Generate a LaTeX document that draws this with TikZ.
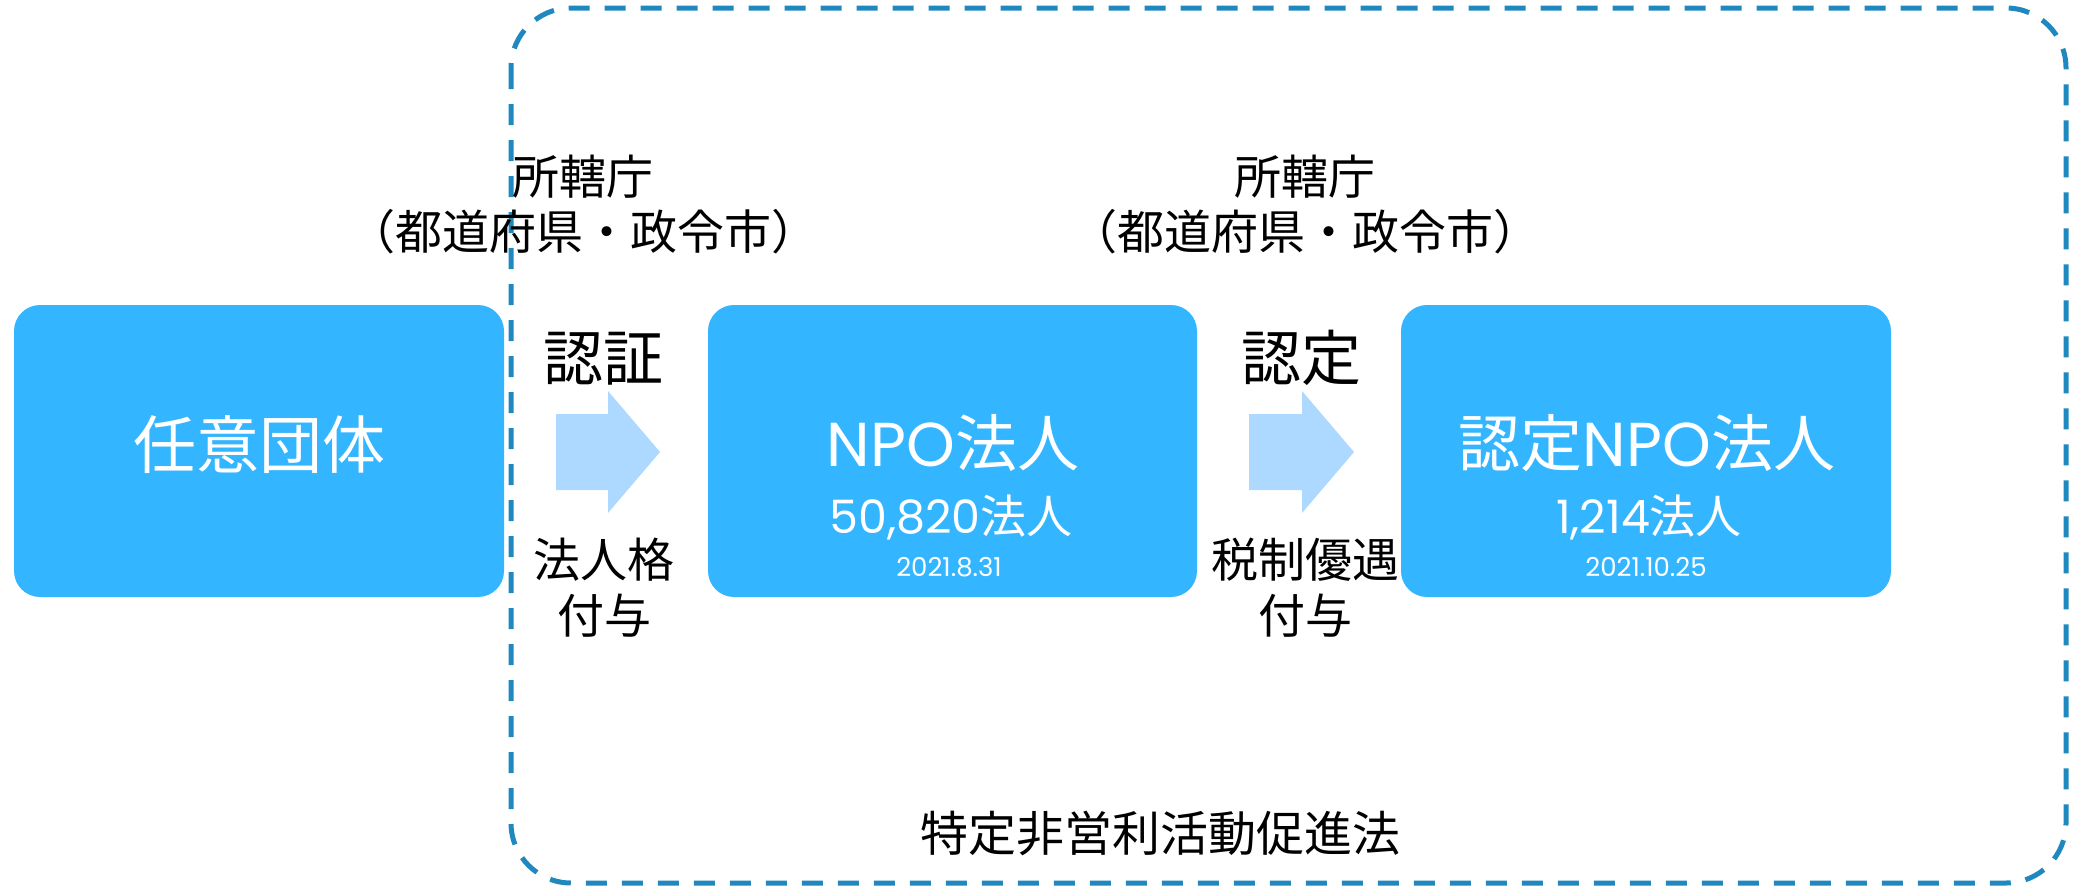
\documentclass[tikz,border=0pt]{standalone}
\usepackage{fontspec}
\setmainfont{Noto Sans CJK JP}
\newfontfamily\lat{Poppins}
\definecolor{boxblue}{RGB}{51,182,255}
\definecolor{arrowblue}{RGB}{173,216,255}
\definecolor{dashblue}{RGB}{31,136,190}
\begin{document}
\begin{tikzpicture}[x=1pt,y=-1pt,
  bx/.style={fill=boxblue, draw=none, rounded corners=26pt, minimum height=292pt, inner sep=0pt},
  wt/.style={text=white, inner sep=0pt, anchor=center},
  bk/.style={text=black, inner sep=0pt, anchor=center, align=center},
  arr/.style={fill=arrowblue, draw=none},
  frame/.style={draw=dashblue, line width=5pt, dash pattern=on 21pt off 15pt, rounded corners=60pt}]
\useasboundingbox (0,0) rectangle (2074,886);
% dashed law frame
\draw[frame] (511,8) rectangle (2066,883);
% boxes
\node[bx, minimum width=490pt] (b1) at (259,451) {};
\node[bx, minimum width=489pt] (b2) at (952.5,451) {};
\node[bx, minimum width=490pt] (b3) at (1646,451) {};
% box texts
\node[wt, font=\fontsize{63}{63}\selectfont] (t1) at (259,445) {任意団体};
\node[wt, font=\fontsize{62}{62}\selectfont] (t2) at (953,443) {{\lat NPO}法人};
\node[wt, font=\fontsize{46}{46}\selectfont] (n2) at (951,517) {{\lat 50,820}法人};
\node[wt, font=\lat\fontsize{26}{26}\selectfont] (d2) at (949,567) {2021.8.31};
\node[wt, font=\fontsize{62}{62}\selectfont] (t3) at (1647,443) {認定{\lat NPO}法人};
\node[wt, font=\fontsize{46}{46}\selectfont] (n3) at (1649,517) {{\lat 1,214}法人};
\node[wt, font=\lat\fontsize{26}{26}\selectfont] (d3) at (1646,567) {2021.10.25};
% arrows
\coordinate (a1) at (556,451);
\coordinate (a2) at (1249,451);
\fill[arr] (a1) ++(0,-37) -- ++(52,0) -- ++(0,-23) -- ++(52,61) -- ++(-52,61) -- ++(0,-23) -- ++(-52,0) -- cycle;
\fill[arr] (a2) ++(0,-37) -- ++(53,0) -- ++(0,-23) -- ++(52,61) -- ++(-52,61) -- ++(0,-23) -- ++(-53,0) -- cycle;
% labels
\node[bk, font=\fontsize{47}{55}\selectfont] (g1) at (583,205) {所轄庁\\（都道府県・政令市）};
\node[bk, font=\fontsize{47}{55}\selectfont] (g2) at (1305,205) {所轄庁\\（都道府県・政令市）};
\node[bk, font=\fontsize{60}{60}\selectfont] (l1) at (603,359) {認証};
\node[bk, font=\fontsize{60}{60}\selectfont] (l2) at (1301,358) {認定};
\node[bk, font=\fontsize{47}{56}\selectfont] (s1) at (604,588) {法人格\\付与};
\node[bk, font=\fontsize{47}{56}\selectfont] (s2) at (1305,588) {税制優遇\\付与};
\node[bk, font=\fontsize{48}{48}\selectfont] (law) at (1160,833) {特定非営利活動促進法};
\end{tikzpicture}
\end{document}
